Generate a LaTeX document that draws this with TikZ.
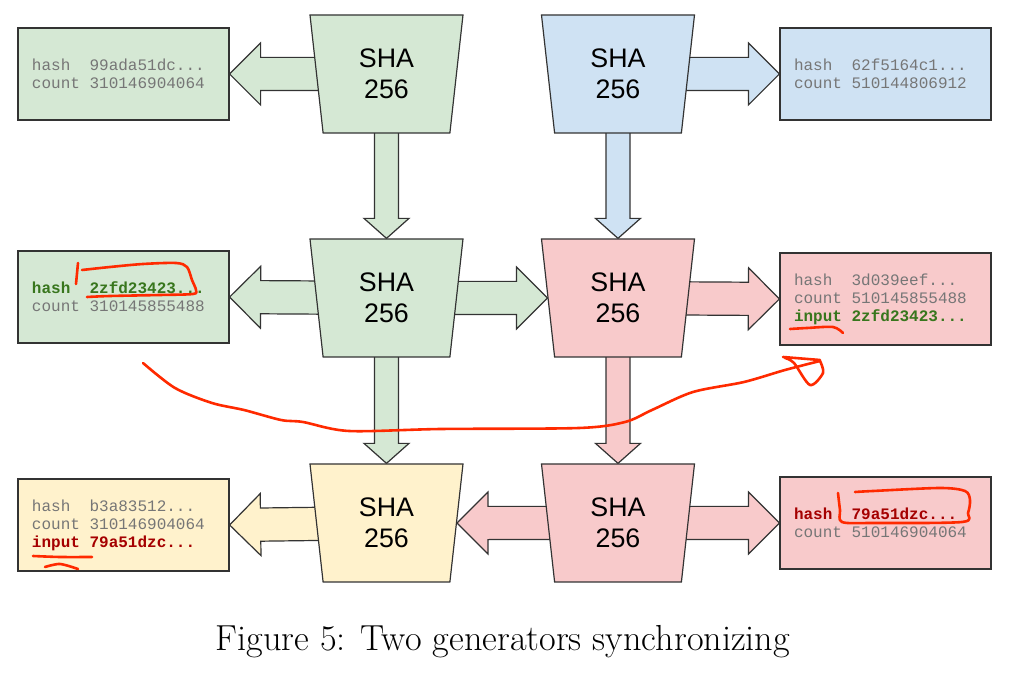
\documentclass[tikz,border=0pt]{standalone}
\usepackage{fontspec}
\setsansfont{Liberation Sans}
\setmonofont{Liberation Mono}
\usetikzlibrary{shapes.geometric,calc,backgrounds}

\definecolor{shagreen}{HTML}{D5E8D4}
\definecolor{shablue}{HTML}{CFE2F3}
\definecolor{shapink}{HTML}{F8CACB}
\definecolor{shayellow}{HTML}{FFF2CC}
\definecolor{edgegray}{HTML}{333333}
\definecolor{txtgray}{HTML}{767676}
\definecolor{hashgreen}{HTML}{38761D}
\definecolor{hashred}{HTML}{A50000}
\definecolor{penred}{HTML}{FF2A00}

\tikzset{
  sha/.style={trapezium, shape border rotate=180, trapezium stretches body,
    trapezium left angle=75.3, trapezium right angle=75.3,
    minimum width=76.5pt, minimum height=59pt, inner sep=0pt,
    draw=edgegray, line width=0.6pt, align=center,
    font=\sffamily\fontsize{13.4}{15.5}\selectfont},
  hashbox/.style={draw=edgegray, line width=0.6pt, text width=91.5pt,
    inner xsep=7pt, minimum height=46pt, align=left, text=txtgray,
    font=\ttfamily\fontsize{8}{9}\selectfont},
  arrowedge/.style={draw=edgegray, line width=0.6pt, line join=miter},
  pen/.style={draw=penred, line width=1.3pt, line cap=round, line join=round},
}

% one fixed-width blank in the mono font
\newcommand{\ms}{\hphantom{0}}

% #1 fill, #2 tail, #3 tip, #4 shaft half width, #5 head half width, #6 head length
\newcommand{\blockarrow}[6]{%
  \coordinate (ba-base) at ($(#3)!#6!(#2)$);
  \filldraw[fill=#1, arrowedge] ($(#2)!#4!90:(#3)$) -- ($(ba-base)!#4!90:(#3)$)
    -- ($(ba-base)!#5!90:(#3)$) -- (#3) -- ($(ba-base)!#5!-90:(#3)$)
    -- ($(ba-base)!#4!-90:(#3)$) -- ($(#2)!#4!-90:(#3)$) -- cycle;}
\newcommand{\hblock}[3]{\blockarrow{#1}{#2}{#3}{8.3pt}{15.5pt}{15.5pt}}
\newcommand{\vblock}[3]{\blockarrow{#1}{#2}{#3}{6pt}{11.25pt}{10pt}}

\begin{document}
\begin{tikzpicture}[x=0.5pt,y=-0.5pt]
\useasboundingbox (0,0) rectangle (1013,678);

% SHA blocks
\node[sha, fill=shagreen]  (sha1) at (386.5,74)  {SHA\\256};
\node[sha, fill=shablue]   (sha2) at (618,74)    {SHA\\256};
\node[sha, fill=shagreen]  (sha3) at (386.5,298) {SHA\\256};
\node[sha, fill=shapink]   (sha4) at (618,298)   {SHA\\256};
\node[sha, fill=shayellow] (sha5) at (386.5,523) {SHA\\256};
\node[sha, fill=shapink]   (sha6) at (618,523)   {SHA\\256};

% state boxes
\node[hashbox, fill=shagreen] (box1) at (123.5,74)
  {hash\ms\ms99ada51dc...\\count\ms310146904064};
\node[hashbox, fill=shablue] (box2) at (885.5,74)
  {hash\ms\ms62f5164c1...\\count\ms510144806912};
\node[hashbox, fill=shagreen] (box3) at (123.5,297)
  {\textcolor{hashgreen}{\bfseries hash\ms\ms2zfd23423...}\\count\ms310145855488};
\node[hashbox, fill=shapink] (box4) at (885.5,299)
  {hash\ms\ms3d039eef...\\count\ms510145855488\\\textcolor{hashgreen}{\bfseries input\ms2zfd23423...}};
\node[hashbox, fill=shayellow] (box5) at (123.5,525)
  {hash\ms\ms b3a83512...\\count\ms310146904064\\\textcolor{hashred}{\bfseries input\ms79a51dzc...}};
\node[hashbox, fill=shapink] (box6) at (885.5,523)
  {\textcolor{hashred}{\bfseries hash\ms\ms79a51dzc...}\\count\ms510146904064};

% block arrows
\begin{scope}[on background layer]
\hblock{shagreen}{sha1.center}{box1.east}
\vblock{shagreen}{sha1.center}{sha3.90}
\hblock{shablue}{sha2.center}{box2.west}
\vblock{shablue}{sha2.center}{sha4.90}
\hblock{shagreen}{sha3.center}{box3.east}
\hblock{shagreen}{sha3.center}{sha4.180}
\vblock{shagreen}{sha3.center}{sha5.90}
\hblock{shapink}{sha4.center}{box4.west}
\vblock{shapink}{sha4.center}{sha6.90}
\hblock{shapink}{sha6.center}{sha5.0}
\hblock{shapink}{sha6.center}{box6.west}
\hblock{shayellow}{sha5.center}{box5.east}
\end{scope}

% hand-drawn marks
\draw[pen] plot[smooth] coordinates {(78,263) (76,284)};
\draw[pen] plot[smooth] coordinates {(82,270) (110,267) (143,264) (176,263) (187,267)
  (192,280) (196,290) (193,294) (160,295) (110,296) (87,297)};
\draw[pen] plot[smooth] coordinates {(790,329) (807,328) (833,327) (843,333)};
\draw[pen] plot[smooth] coordinates {(33,556) (60,557) (92,557)};
\draw[pen] plot[smooth] coordinates {(45,567) (60,564) (78,569)};
\draw[pen] plot[smooth] coordinates {(838,493) (840,510) (842,522) (873,523) (962,522)
  (968,513) (970,500) (965,491) (940,488) (873,491) (855,492)};
\draw[pen] plot[smooth] coordinates {(143,363) (175,388) (212,403) (244,410) (281,420)
  (303,422) (349,431) (441,429) (579,428) (625,422) (652,410) (693,392) (744,382)
  (785,370) (820,361)};
\draw[pen] (783,357) -- (820,360);
\draw[pen] plot[smooth] coordinates {(820,361) (823,373) (810,385) (794,363) (785,358)};

% caption
\node[anchor=base, inner sep=0pt, font=\fontsize{18.1}{22}\selectfont] (caption)
  at (503,651) {Figure 5: Two generators synchronizing};

\end{tikzpicture}
\end{document}
